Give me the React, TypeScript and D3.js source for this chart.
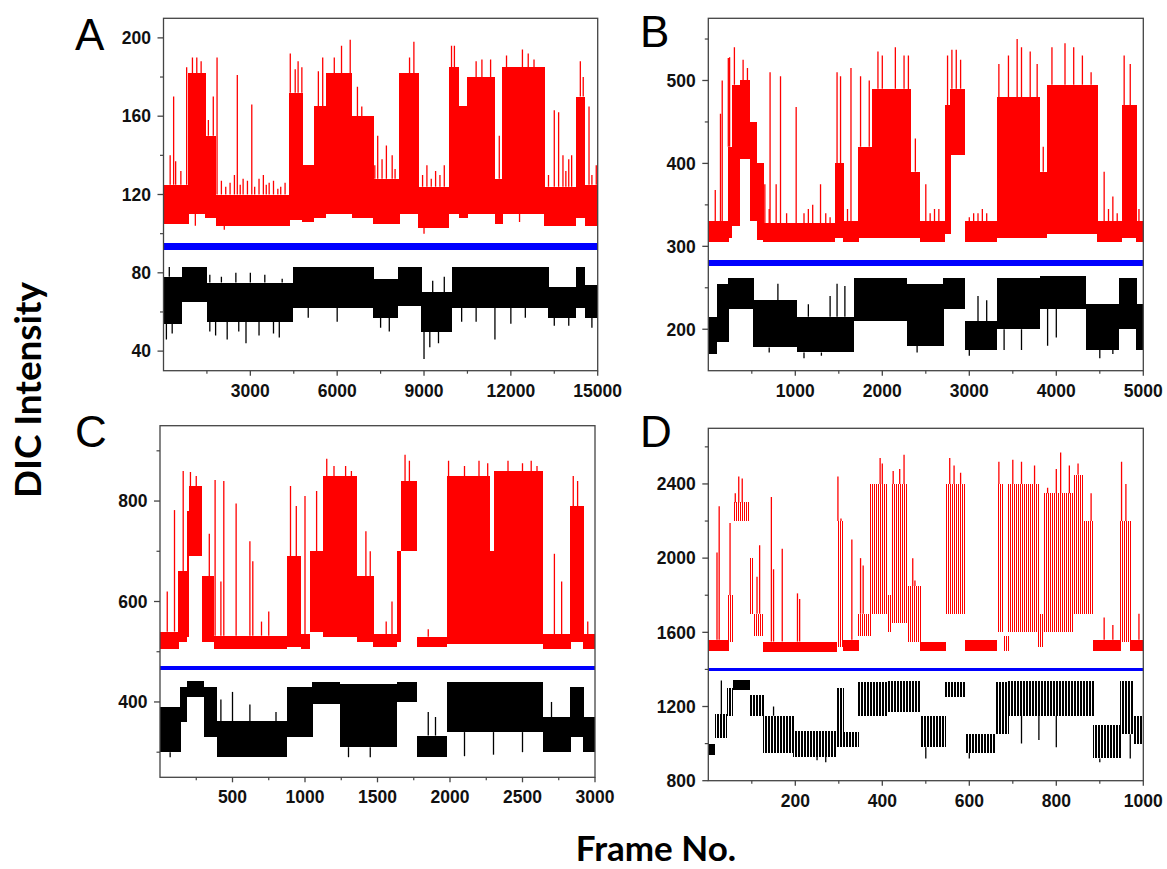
import React from 'react';
import * as d3 from 'd3';

type Seg = [number, number, number, number]; // x0, x1, lo, hi
type Spk = [number, number, number]; // x, from, to

// ---------- Panel A (frames 0-15000) ----------
const A_RED: Seg[] = [
  [0, 850, 105, 125], [850, 1450, 110, 182], [1450, 1800, 108, 150], [1800, 4350, 104, 120],
  [4350, 4800, 107, 172], [4800, 5200, 106, 135], [5200, 5600, 108, 165], [5600, 6500, 110, 182],
  [6500, 7250, 108, 160], [7250, 8150, 105, 128], [8150, 8800, 110, 182], [8800, 9850, 103, 124],
  [9850, 10200, 110, 185], [10200, 10500, 108, 165], [10500, 11450, 110, 180], [11450, 11700, 105, 128],
  [11700, 13150, 110, 185], [13150, 14250, 104, 124], [14250, 14550, 108, 170], [14550, 15000, 104, 125],
];
const A_RED_SPIKES: Spk[] = [
  [230, 125, 140], [350, 125, 170], [420, 125, 137], [600, 125, 132], [800, 125, 185],
  [1000, 182, 190], [1150, 182, 190], [1300, 182, 188], [1550, 150, 158], [1720, 150, 170],
  [1850, 120, 190], [2300, 120, 126], [2550, 120, 181], [2750, 120, 128], [3050, 120, 166],
  [3300, 120, 128], [3650, 120, 126], [4050, 120, 124], [4380, 172, 192], [4550, 172, 184],
  [4650, 172, 188], [4780, 172, 185], [5350, 165, 183], [5500, 165, 190], [5900, 182, 190],
  [6150, 182, 196], [6450, 182, 199], [6700, 160, 175], [6850, 160, 165], [7400, 128, 150],
  [7700, 128, 145], [7900, 128, 140], [8500, 182, 190], [8650, 182, 198], [9100, 124, 135],
  [9400, 124, 132], [9700, 124, 135], [9950, 185, 196], [10050, 185, 196], [10800, 180, 188],
  [11000, 180, 189], [11300, 180, 189], [11600, 128, 150], [11850, 185, 191], [12400, 185, 194],
  [12600, 185, 192], [12800, 185, 189], [13500, 124, 163], [13650, 124, 162], [13800, 124, 140],
  [14000, 124, 138], [14400, 170, 188], [14500, 170, 180], [14700, 125, 165], [14950, 125, 135],
  [2000, 120, 127], [2150, 120, 124], [2450, 120, 130], [2650, 120, 125], [2900, 120, 127],
  [3150, 120, 124], [3450, 120, 130], [3550, 120, 125], [3800, 120, 127], [3950, 120, 123],
  [4200, 120, 126], [7300, 128, 135], [7550, 128, 138], [8000, 128, 133], [8950, 124, 130],
  [9250, 124, 128], [9550, 124, 130], [13300, 124, 130], [13900, 124, 132], [14100, 124, 140],
  [14800, 125, 130], [1100, 110, 104], [2100, 104, 102], [9000, 103, 100], [12300, 110, 106],
];
const A_BLUE: Seg[] = [[0, 15000, 91.7, 95.3]];
const A_BLACK: Seg[] = [
  [0, 630, 54, 78], [630, 1490, 65, 83], [1490, 4470, 55, 75], [4470, 7250, 62, 83],
  [7250, 8100, 57, 77], [8100, 8900, 63, 83], [8900, 9950, 50, 70], [9950, 13300, 62, 83],
  [13300, 14250, 57, 73], [14250, 14550, 62, 83], [14550, 15000, 57, 74],
];
const A_BLACK_SPIKES: Spk[] = [
  [100, 54, 46], [300, 54, 49], [1600, 55, 50], [2200, 55, 46], [2850, 55, 44], [3300, 55, 48],
  [4000, 55, 47], [7500, 57, 52], [7800, 57, 50], [9000, 50, 36], [9200, 50, 42], [9500, 50, 44],
  [10800, 62, 55], [11450, 62, 46], [13500, 57, 53], [200, 78, 83], [2500, 75, 80], [3500, 75, 79],
  [9300, 70, 76], [9700, 70, 78], [1600, 75, 79], [2000, 75, 78], [3000, 75, 80], [4100, 75, 77],
  [1800, 55, 48], [2600, 55, 50], [3800, 55, 49], [5000, 62, 57], [6000, 62, 55], [10300, 62, 55],
  [12500, 62, 57], [14000, 57, 53], [14800, 57, 52], [12000, 62, 54],
];

// ---------- Panel B (frames 0-5000) ----------
const B_RED: Seg[] = [
  [0, 230, 305, 330], [230, 270, 310, 420], [270, 360, 325, 495], [360, 480, 405, 500],
  [480, 560, 330, 450], [560, 630, 308, 400], [630, 1456, 305, 328], [1456, 1550, 310, 400],
  [1550, 1724, 305, 330], [1724, 1880, 310, 420], [1880, 2320, 310, 490], [2320, 2433, 310, 390],
  [2433, 2720, 305, 330], [2720, 2780, 315, 470], [2780, 2950, 410, 490], [2950, 3315, 305, 330],
  [3315, 3810, 310, 480], [3810, 3890, 310, 390], [3890, 4470, 315, 495], [4470, 4750, 305, 330],
  [4750, 4920, 310, 470], [4920, 5000, 305, 330],
];
const B_RED_SPIKES: Spk[] = [
  [80, 330, 368], [140, 330, 460], [160, 330, 500], [230, 420, 527], [245, 420, 528],
  [300, 495, 540], [400, 500, 525], [450, 500, 515], [650, 328, 375], [710, 328, 510],
  [780, 328, 375], [830, 328, 505], [1010, 328, 468], [1100, 328, 340], [1200, 328, 350],
  [1290, 328, 375], [1480, 400, 510], [1520, 400, 505], [1600, 330, 345], [1640, 330, 515],
  [1750, 420, 505], [1850, 420, 500], [1950, 490, 535], [2000, 490, 530], [2150, 490, 540],
  [2250, 490, 530], [2300, 390, 530], [2380, 390, 430], [2500, 330, 375], [2600, 330, 345],
  [2650, 330, 345], [2750, 470, 530], [2800, 490, 537], [2850, 490, 537], [2900, 490, 525],
  [3050, 330, 340], [3150, 330, 345], [3200, 330, 340], [3340, 480, 520], [3450, 480, 530],
  [3550, 480, 550], [3600, 480, 540], [3700, 480, 535], [3780, 480, 520], [3850, 390, 420],
  [3950, 495, 540], [4100, 495, 545], [4200, 495, 540], [4300, 495, 530], [4400, 495, 510],
  [4550, 330, 390], [4650, 330, 360], [4780, 470, 530], [4850, 470, 520], [4950, 330, 345],
  [700, 328, 345], [900, 328, 340], [1150, 328, 345], [1350, 328, 340], [1400, 328, 335],
  [2550, 330, 340], [3000, 330, 335], [3100, 330, 340], [4600, 330, 345], [4700, 330, 340],
];
const B_BLUE: Seg[] = [[0, 5000, 276.5, 283.5]];
const B_BLACK: Seg[] = [
  [0, 100, 170, 215], [100, 230, 185, 255], [230, 517, 225, 262], [517, 1015, 178, 235],
  [1015, 1670, 172, 215], [1670, 2280, 210, 262], [2280, 2700, 180, 255], [2700, 2950, 225, 262],
  [2950, 3315, 175, 210], [3315, 3810, 200, 262], [3810, 4340, 225, 264], [4340, 4720, 175, 230],
  [4720, 4920, 200, 262], [4920, 5000, 175, 230],
];
const B_BLACK_SPIKES: Spk[] = [
  [1480, 215, 255], [1570, 215, 252], [800, 235, 255], [3100, 210, 240], [3200, 210, 235],
  [3400, 200, 175], [3600, 200, 175], [3900, 225, 180], [4000, 225, 190], [2400, 180, 172],
  [700, 178, 172], [1100, 172, 165], [1300, 172, 168], [3000, 175, 168], [4500, 175, 165],
  [4650, 175, 170], [1150, 215, 230], [1400, 215, 240],
];

// ---------- Panel C (frames 0-3000) ----------
const C_RED: Seg[] = [
  [0, 125, 505, 540], [125, 185, 520, 660], [185, 200, 530, 780], [200, 290, 690, 830],
  [290, 370, 520, 650], [370, 875, 505, 532], [875, 970, 510, 690], [970, 1035, 505, 535],
  [1035, 1125, 540, 700], [1125, 1356, 530, 850], [1356, 1470, 520, 650], [1470, 1632, 510, 535],
  [1632, 1660, 520, 700], [1660, 1770, 700, 840], [1770, 1977, 510, 530], [1977, 2275, 515, 850],
  [2275, 2300, 515, 700], [2300, 2640, 515, 860], [2640, 2830, 505, 535], [2830, 2920, 520, 790],
  [2920, 3000, 505, 535],
];
const C_RED_SPIKES: Spk[] = [
  [50, 540, 620], [100, 540, 782], [160, 660, 860], [210, 830, 858], [250, 830, 850],
  [340, 650, 735], [380, 532, 842], [420, 532, 640], [440, 532, 840], [525, 532, 795],
  [620, 532, 720], [640, 532, 680], [700, 532, 560], [750, 532, 580], [900, 690, 830],
  [940, 690, 790], [1000, 535, 810], [1080, 700, 820], [1150, 850, 884], [1200, 850, 870],
  [1280, 850, 870], [1320, 850, 860], [1420, 650, 740], [1450, 650, 700], [1560, 535, 560],
  [1600, 535, 600], [1690, 840, 892], [1720, 840, 880], [1850, 530, 545], [1990, 850, 880],
  [2100, 850, 870], [2200, 850, 880], [2260, 850, 875], [2400, 860, 880], [2500, 860, 875],
  [2560, 860, 880], [2600, 860, 870], [2720, 535, 695], [2770, 535, 640], [2850, 790, 850],
  [2880, 790, 840], [2950, 535, 560],
];
const C_BLUE: Seg[] = [[0, 3000, 464, 472]];
const C_BLACK: Seg[] = [
  [0, 140, 300, 390], [140, 185, 360, 430], [185, 300, 410, 442], [300, 390, 330, 430],
  [390, 875, 290, 362], [875, 1050, 330, 430], [1050, 1240, 395, 440], [1240, 1632, 310, 435],
  [1632, 1770, 400, 440], [1770, 1977, 290, 333], [1977, 2640, 340, 440], [2640, 2830, 300, 370],
  [2830, 2920, 330, 430], [2920, 3000, 300, 370],
];
const C_BLACK_SPIKES: Spk[] = [
  [420, 362, 405], [500, 362, 420], [620, 362, 395], [800, 362, 380], [1850, 333, 380],
  [1900, 333, 370], [2700, 370, 400], [1300, 310, 290], [1450, 310, 290], [2100, 340, 292],
  [2300, 340, 295], [2500, 340, 300], [70, 300, 290],
];

// ---------- Panel D (frames 0-1000) ----------
const D_RED: Seg[] = [
  [0, 46, 1500, 1560], [46, 57, 1550, 1800], [57, 96, 2200, 2300], [96, 103, 1700, 2000],
  [103, 126, 1580, 1700], [126, 295, 1495, 1550], [295, 310, 1520, 2200], [310, 345, 1500, 1560],
  [345, 372, 1580, 1700], [372, 410, 1700, 2400], [410, 420, 1600, 1800], [420, 456, 1650, 2400],
  [456, 487, 1550, 1850], [487, 545, 1500, 1550], [545, 590, 1700, 2400], [590, 663, 1500, 1560],
  [663, 678, 1600, 2400], [678, 690, 1500, 1580], [690, 759, 1600, 2400], [759, 770, 1520, 1700],
  [770, 839, 1600, 2350], [839, 862, 1700, 2450], [862, 885, 1700, 2200], [885, 947, 1500, 1560],
  [947, 970, 1550, 2200], [970, 1000, 1500, 1560],
];
const D_RED_SPIKES: Spk[] = [
  [20, 1560, 2030], [25, 1560, 2280], [50, 1800, 2190], [62, 2300, 2350], [70, 2300, 2440],
  [78, 2300, 2430], [112, 1700, 1900], [118, 1700, 2070], [145, 1550, 2330], [150, 1550, 1940],
  [170, 1550, 2050], [205, 1550, 1810], [210, 1550, 1780], [298, 2200, 2440], [305, 2200, 2214],
  [330, 1560, 2100], [350, 1700, 2000], [356, 1700, 1960], [395, 2400, 2540], [400, 2400, 2510],
  [425, 2400, 2470], [440, 2400, 2480], [450, 2400, 2557], [470, 1850, 2000], [475, 1850, 1880],
  [555, 2400, 2540], [565, 2400, 2500], [580, 2400, 2460], [668, 2400, 2520], [700, 2400, 2530],
  [720, 2400, 2520], [750, 2400, 2500], [780, 2350, 2380], [800, 2350, 2480], [810, 2350, 2570],
  [830, 2350, 2500], [850, 2450, 2510], [880, 2200, 2350], [910, 1560, 1680], [930, 1560, 1640],
  [950, 2200, 2520], [960, 2200, 2400], [990, 1560, 1700],
];
const D_BLUE: Seg[] = [[0, 1000, 1390, 1406]];
const D_BLACK: Seg[] = [
  [0, 15, 940, 1000], [15, 42, 1030, 1160], [42, 57, 1150, 1300], [57, 96, 1290, 1345],
  [96, 126, 1150, 1260], [126, 195, 950, 1150], [195, 295, 930, 1070], [295, 310, 980, 1300],
  [310, 345, 980, 1060], [345, 410, 1150, 1330], [410, 487, 1170, 1340], [487, 545, 980, 1150],
  [545, 590, 1250, 1330], [590, 660, 950, 1050], [660, 690, 1050, 1330], [690, 885, 1150, 1340],
  [885, 947, 920, 1100], [947, 977, 1050, 1340], [977, 1000, 1000, 1150],
];
const D_BLACK_SPIKES: Spk[] = [
  [30, 1160, 1340], [150, 1150, 1200], [250, 930, 910], [270, 930, 900], [500, 980, 920],
  [600, 950, 920], [720, 1150, 1000], [760, 1150, 1020], [800, 1150, 980], [900, 920, 900],
  [970, 1050, 920],
];

// ---------- Axes ----------
const A_XTICKS = [3000, 6000, 9000, 12000, 15000];
const A_XMINOR = [1500, 4500, 7500, 10500, 13500];
const A_YTICKS = [40, 80, 120, 160, 200];
const A_YMINOR = [60, 100, 140, 180];
const B_XTICKS = [1000, 2000, 3000, 4000, 5000];
const B_XMINOR = [500, 1500, 2500, 3500, 4500];
const B_YTICKS = [200, 300, 400, 500];
const B_YMINOR = [250, 350, 450, 550];
const C_XTICKS = [500, 1000, 1500, 2000, 2500, 3000];
const C_XMINOR = [250, 750, 1250, 1750, 2250, 2750];
const C_YTICKS = [400, 600, 800];
const C_YMINOR = [300, 500, 700, 900];
const D_XTICKS = [200, 400, 600, 800, 1000];
const D_XMINOR = [100, 300, 500, 700, 900];
const D_YTICKS = [800, 1200, 1600, 2000, 2400];
const D_YMINOR = [1000, 1400, 1800, 2200, 2600];

type Stripe = { red: [number, number]; black: [number, number] } | null; // period, line width (px)

interface PanelDef {
  id: string; letter: string; lx: number; ly: number;
  box: [number, number, number, number];
  xd: [number, number]; yd: [number, number];
  xt: number[]; xm: number[]; yt: number[]; ym: number[];
  red: Seg[]; redS: Spk[]; blue: Seg[]; black: Seg[]; blackS: Spk[];
  stripe: Stripe;
}

const PANELS: PanelDef[] = [
  { id: 'a', letter: 'A', lx: 75, ly: 50, box: [163.5, 18.3, 597.7, 370.7], xd: [0, 15000], yd: [30, 210],
    xt: A_XTICKS, xm: A_XMINOR, yt: A_YTICKS, ym: A_YMINOR, red: A_RED, redS: A_RED_SPIKES, blue: A_BLUE, black: A_BLACK, blackS: A_BLACK_SPIKES, stripe: null },
  { id: 'b', letter: 'B', lx: 640, ly: 47, box: [708.3, 18.3, 1143.3, 370.7], xd: [0, 5000], yd: [150, 575],
    xt: B_XTICKS, xm: B_XMINOR, yt: B_YTICKS, ym: B_YMINOR, red: B_RED, redS: B_RED_SPIKES, blue: B_BLUE, black: B_BLACK, blackS: B_BLACK_SPIKES, stripe: null },
  { id: 'c', letter: 'C', lx: 75, ly: 447, box: [160, 425.7, 595, 777.3], xd: [0, 3000], yd: [250, 950],
    xt: C_XTICKS, xm: C_XMINOR, yt: C_YTICKS, ym: C_YMINOR, red: C_RED, redS: C_RED_SPIKES, blue: C_BLUE, black: C_BLACK, blackS: C_BLACK_SPIKES,
    stripe: null },
  { id: 'd', letter: 'D', lx: 640, ly: 447, box: [708.3, 428.3, 1143.3, 780.7], xd: [0, 1000], yd: [800, 2700],
    xt: D_XTICKS, xm: D_XMINOR, yt: D_YTICKS, ym: D_YMINOR, red: D_RED, redS: D_RED_SPIKES, blue: D_BLUE, black: D_BLACK, blackS: D_BLACK_SPIKES,
    stripe: { red: [2, 1], black: [3, 2] } },
];

const AXIS = '#444';
const TICKFONT = '"Liberation Sans", Arial, sans-serif';

function Series({ segs, spikes, color, xs, ys, patId }: { segs: Seg[]; spikes: Spk[]; color: string; xs: any; ys: any; patId: string | null }) {
  return (
    <g>
      {segs.map((s, i) => {
        const h = ys(s[2]) - ys(s[3]);
        const fill = patId && h > 14 ? `url(#${patId})` : color;
        return (
          <rect key={i} x={xs(s[0])} y={ys(s[3])} width={xs(s[1]) - xs(s[0]) + 0.4} height={h} fill={fill} shapeRendering="crispEdges" />
        );
      })}
      {spikes.map((s, i) => (
        <line key={'s' + i} x1={xs(s[0])} x2={xs(s[0])} y1={ys(s[1])} y2={ys(s[2])} stroke={color} strokeWidth={1.3} />
      ))}
    </g>
  );
}

function Panel({ p }: { p: PanelDef }) {
  const [x0, y0, x1, y1] = p.box;
  const xs = d3.scaleLinear().domain(p.xd).range([x0, x1]);
  const ys = d3.scaleLinear().domain(p.yd).range([y1, y0]);
  const redPat = p.stripe ? 'pat-red-' + p.id : null;
  const blkPat = p.stripe ? 'pat-blk-' + p.id : null;
  return (
    <g>
      <defs>
        <clipPath id={'clip-' + p.id}>
          <rect x={x0} y={y0} width={x1 - x0} height={y1 - y0} />
        </clipPath>
        {p.stripe && (
          <pattern id={redPat!} x={0} y={0} width={p.stripe.red[0]} height={20} patternUnits="userSpaceOnUse">
            <rect x={0} y={0} width={p.stripe.red[1]} height={20} fill="#ff0000" shapeRendering="crispEdges" />
          </pattern>
        )}
        {p.stripe && (
          <pattern id={blkPat!} x={0} y={0} width={p.stripe.black[0]} height={20} patternUnits="userSpaceOnUse">
            <rect x={0} y={0} width={p.stripe.black[1]} height={20} fill="#000000" shapeRendering="crispEdges" />
          </pattern>
        )}
      </defs>
      <g clipPath={`url(#clip-${p.id})`}>
        <Series segs={p.red} spikes={p.redS} color="#ff0000" xs={xs} ys={ys} patId={redPat} />
        <Series segs={p.blue} spikes={[]} color="#0000ff" xs={xs} ys={ys} patId={null} />
        <Series segs={p.black} spikes={p.blackS} color="#000000" xs={xs} ys={ys} patId={blkPat} />
      </g>
      <rect x={x0} y={y0} width={x1 - x0} height={y1 - y0} fill="none" stroke={AXIS} strokeWidth={1.3} />
      {p.xt.map((t) => (
        <g key={'xt' + t}>
          <line x1={xs(t)} x2={xs(t)} y1={y1} y2={y1 + 5} stroke={AXIS} strokeWidth={1.3} />
          <text x={xs(t)} y={y1 + 26} textAnchor="middle" fontFamily={TICKFONT} fontWeight="bold" fontSize={17.5} fill="#111">{t}</text>
        </g>
      ))}
      {p.xm.map((t) => (
        <line key={'xm' + t} x1={xs(t)} x2={xs(t)} y1={y1} y2={y1 + 3} stroke={AXIS} strokeWidth={1.2} />
      ))}
      {p.yt.map((t) => (
        <g key={'yt' + t}>
          <line x1={x0 - 6} x2={x0} y1={ys(t)} y2={ys(t)} stroke={AXIS} strokeWidth={1.3} />
          <text x={x0 - 12.5} y={ys(t) + 6.3} textAnchor="end" fontFamily={TICKFONT} fontWeight="bold" fontSize={17.5} fill="#111">{t}</text>
        </g>
      ))}
      {p.ym.map((t) => (
        <line key={'ym' + t} x1={x0 - 3.5} x2={x0} y1={ys(t)} y2={ys(t)} stroke={AXIS} strokeWidth={1.2} />
      ))}
      <text x={p.lx} y={p.ly} fontFamily={TICKFONT} fontSize={44} fill="#000">{p.letter}</text>
    </g>
  );
}

export default function App() {
  return (
    <svg width={1167} height={869} style={{ position: 'absolute', left: 0, top: 0, background: '#fff' }}>
      <rect x={0} y={0} width={1167} height={869} fill="#fff" />
      {PANELS.map((p) => <Panel key={p.id} p={p} />)}
      <text transform="translate(41,390) rotate(-90)" textAnchor="middle" fontFamily="Lato, 'Open Sans', sans-serif" fontWeight="bold" fontSize={36} textLength={216} lengthAdjust="spacingAndGlyphs" fill="#000">DIC Intensity</text>
      <text x={656} y={861} textAnchor="middle" fontFamily="Lato, 'Open Sans', sans-serif" fontWeight="bold" fontSize={35} fill="#000">Frame No.</text>
    </svg>
  );
}
